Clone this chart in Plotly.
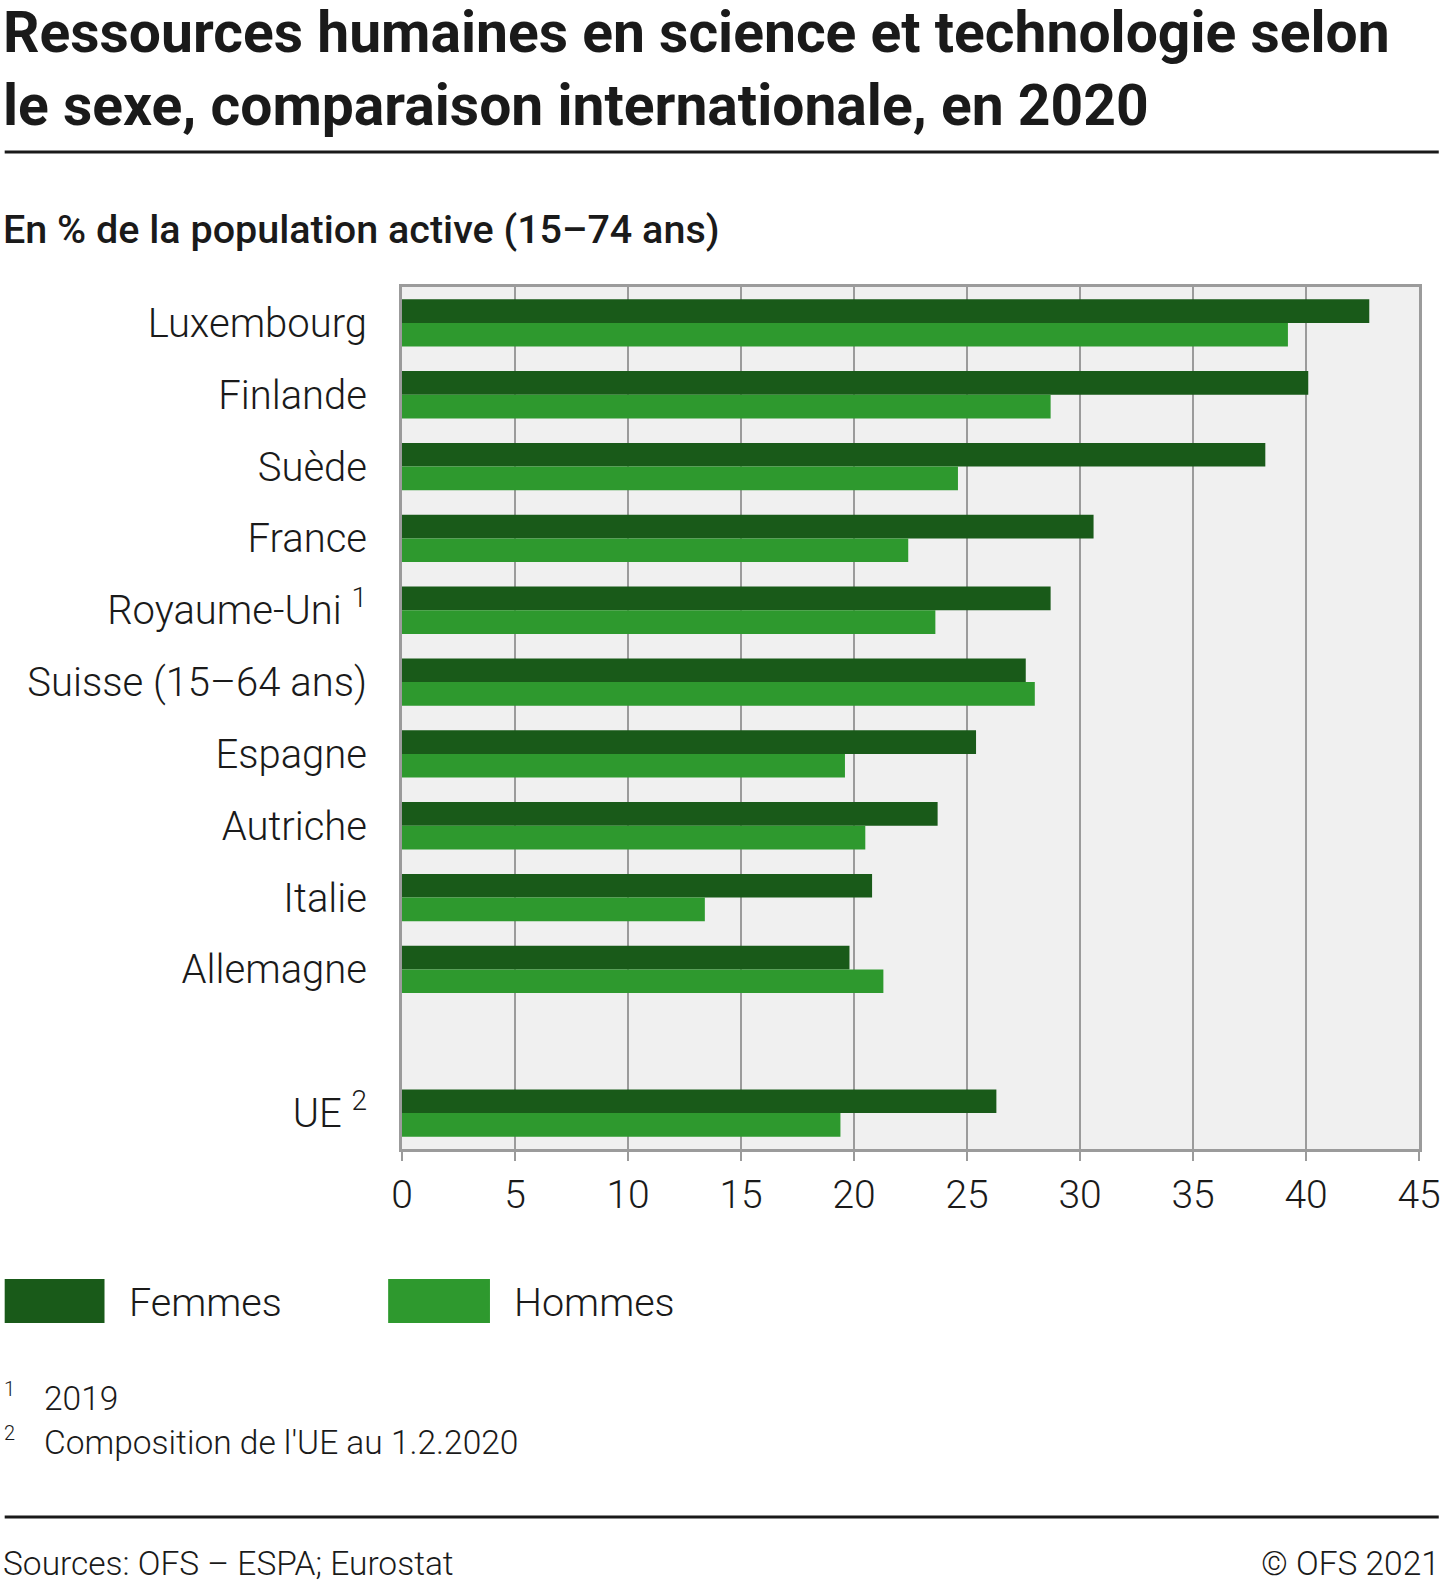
import plotly.graph_objects as go

# ---- data ----
pays = ["Luxembourg", "Finlande", "Suède", "France", "Royaume-Uni <sup>1</sup>",
        "Suisse (15–64 ans)", "Espagne", "Autriche", "Italie", "Allemagne", " ", "UE <sup>2</sup>"]
femmes = [42.8, 40.1, 38.2, 30.6, 28.7, 27.6, 25.4, 23.7, 20.8, 19.8, None, 26.3]
hommes = [39.2, 28.7, 24.6, 22.4, 23.6, 28.0, 19.6, 20.5, 13.4, 21.3, None, 19.4]
x_ticks = [0, 5, 10, 15, 20, 25, 30, 35, 40, 45]

C_F = "#195a19"
C_H = "#2e992e"
GRID = "#9b9b9b"
TXT = "#1a1a1a"
FONT = "Roboto"

W, H = 1453, 1584
L, R, T, B = 402, 1431, 287, 1149


def px(x):
    return (x - L) / (R - L)


def py(y):
    return (B - y) / (B - T)


fig = go.Figure()
fig.add_trace(go.Bar(y=pays, x=femmes, orientation="h", name="Femmes",
                     marker=dict(color=C_F, line=dict(width=0))))
fig.add_trace(go.Bar(y=pays, x=hommes, orientation="h", name="Hommes",
                     marker=dict(color=C_H, line=dict(width=0))))

fig.update_layout(
    width=W, height=H,
    margin=dict(l=L, r=W - R, t=T, b=H - B, pad=0),
    paper_bgcolor="white", plot_bgcolor="#f0f0f0",
    barmode="group", bargap=0.34, bargroupgap=0,
    showlegend=False,
    font=dict(family=FONT, color=TXT, size=38, weight=300),
)
fig.update_xaxes(range=[0, 45], tickvals=x_ticks, showgrid=True, gridcolor=GRID, gridwidth=2,
                 showline=True, linecolor=GRID, linewidth=3, mirror=True,
                 ticks="outside", ticklen=9, tickwidth=2, tickcolor=GRID,
                 tickfont=dict(family=FONT, size=39, color=TXT, weight=300), zeroline=False,
                 fixedrange=True)
fig.update_yaxes(type="category", categoryorder="array", categoryarray=pays,
                 autorange="reversed", showgrid=False,
                 showline=True, linecolor=GRID, linewidth=3, mirror=True,
                 ticks="", ticklabelstandoff=24,
                 tickfont=dict(family=FONT, size=40, color=TXT, weight=300),
                 fixedrange=True)

ann = []


def text(x, y, s, size, weight=300, xanchor="left", yanchor="middle"):
    ann.append(dict(x=px(x), y=py(y), xref="paper", yref="paper", text=s, showarrow=False,
                    xanchor=xanchor, yanchor=yanchor, align=xanchor,
                    font=dict(family=FONT, size=size, color=TXT, weight=weight)))


text(-4, 33, "Ressources humaines en science et technologie selon", 57, 700)
text(-4, 105, "le sexe, comparaison internationale, en 2020", 57, 700)
text(-4, 229, "En % de la population active (15–74 ans)", 39.5, 500)

text(124, 1302, "Femmes", 39.5)
text(513, 1302, "Hommes", 39.5)

text(-3, 1389, "1", 20)
text(38, 1398, "2019", 33.5)
text(-3, 1433, "2", 20)
text(38, 1442, "Composition de l'UE au 1.2.2020", 33.5)

text(-4, 1563, "Sources: OFS – ESPA; Eurostat", 33.5)
text(1454, 1563, "© OFS 2021", 33.5, xanchor="right")

fig.update_layout(annotations=ann)

shapes = [
    dict(type="line", xref="paper", yref="paper", x0=px(0), x1=px(1451), y0=py(152), y1=py(152),
         line=dict(color=TXT, width=3)),
    dict(type="line", xref="paper", yref="paper", x0=px(0), x1=px(1451), y0=py(1517), y1=py(1517),
         line=dict(color=TXT, width=3)),
    dict(type="rect", xref="paper", yref="paper", x0=px(0), x1=px(101), y0=py(1279), y1=py(1323),
         fillcolor=C_F, line=dict(width=0)),
    dict(type="rect", xref="paper", yref="paper", x0=px(388), x1=px(491), y0=py(1279), y1=py(1323),
         fillcolor=C_H, line=dict(width=0)),
]
fig.update_layout(shapes=shapes)

fig.write_html("out.html", config={"displayModeBar": False},
               post_script="document.body.style.margin='0';document.body.style.padding='0';")
